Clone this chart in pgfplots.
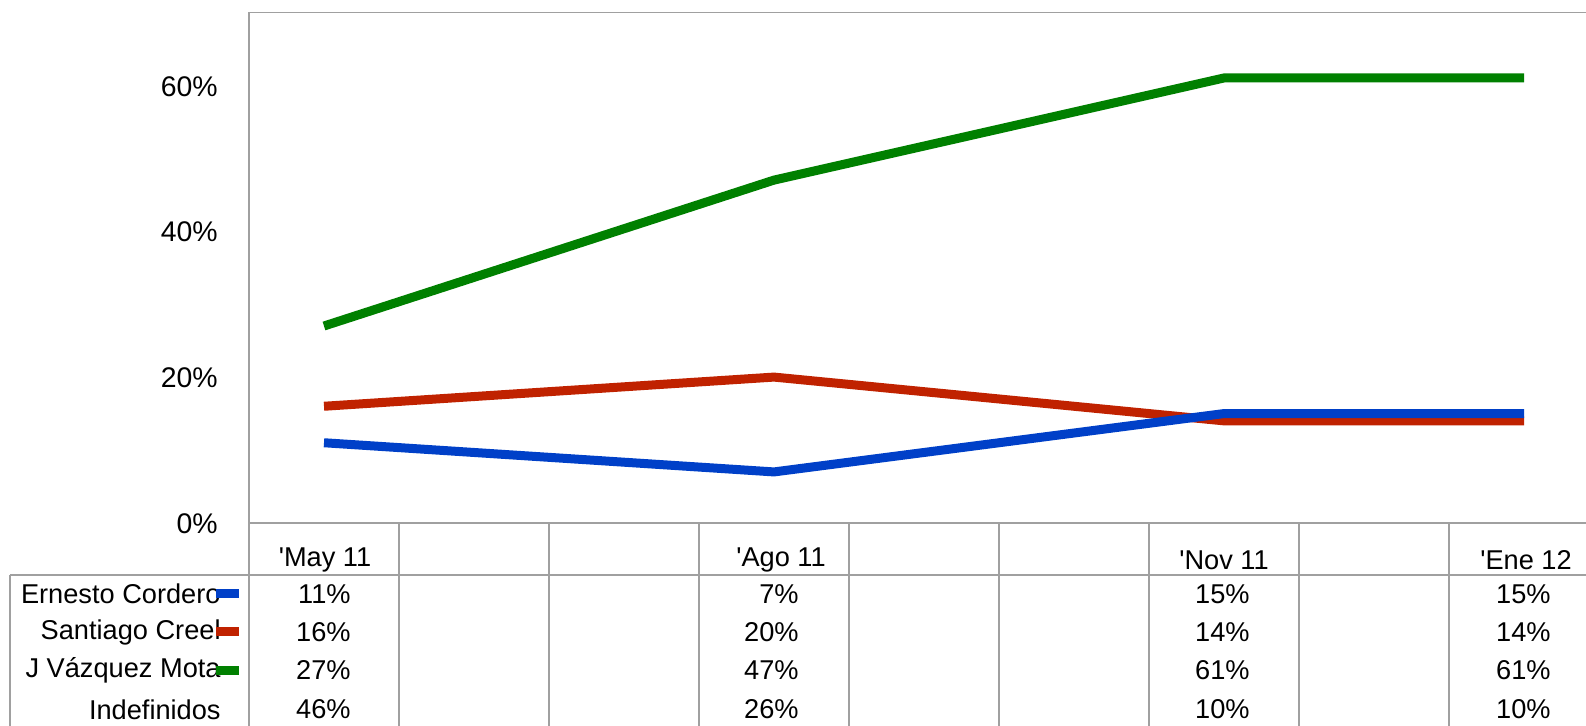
\documentclass[border=0pt]{standalone}
\usepackage{pgfplots}
\pgfplotsset{compat=1.18}
\usepackage{fontspec}
\setmainfont{Liberation Sans}
\definecolor{cblue}{RGB}{0,64,200}
\definecolor{cred}{RGB}{192,34,0}
\definecolor{cgreen}{RGB}{0,128,0}
\definecolor{cgrid}{RGB}{160,160,160}
\begin{document}
\begin{tikzpicture}[font=\fontsize{13.6}{16}\selectfont]
\path[use as bounding box] (0,0) rectangle (793pt,-363pt);
\begin{axis}[
  at={(124.5pt,-261.5pt)}, anchor=south west,
  scale only axis, width=668.5pt, height=255.35pt,
  xmin=-0.5, xmax=8.4133, ymin=0, ymax=70,
  axis x line*=bottom, axis y line*=left,
  xtick=\empty,
  ytick={0,20,40,60}, yticklabels={0\%,20\%,40\%,60\%},
  major tick length=0pt,
  yticklabel style={anchor=east, inner sep=0pt, xshift=-15.5pt, yshift=-0.5pt, font=\fontsize{14.2}{17}\selectfont},
  axis line style={draw=cgrid, line width=0.6pt, -},
  clip=false,
  every axis plot/.append style={line width=4.5pt, line cap=butt, line join=miter},
]
\draw[cgrid, line width=0.6pt] (rel axis cs:0,1) -- (rel axis cs:1,1);
\addplot[cred] coordinates {(0,16) (3,20) (6,14) (8,14)};
\addplot[cgreen] coordinates {(0,27) (3,47) (6,61) (8,61)};
\addplot[cblue] coordinates {(0,11) (3,7) (6,15) (8,15)};
\end{axis}
\begin{scope}[x=0.5pt, y=-0.5pt]
  % table grid
  \draw[cgrid, line width=0.6pt] (10,575) -- (1586,575);
  \draw[cgrid, line width=0.6pt] (10,575) -- (10,726);
  \foreach \k in {0,...,8} {
    \draw[cgrid, line width=0.6pt] ({249+150*\k},523) -- ({249+150*\k},726);
  }
  % column labels
  \node[inner sep=0pt] at (325,560) {\textquotesingle May 11};
  \node[inner sep=0pt] at (781,560) {\textquotesingle Ago 11};
  \node[inner sep=0pt] at (1224,560) {\textquotesingle Nov 11};
  \node[inner sep=0pt] at (1526,560) {\textquotesingle Ene 12};
  % row labels
  \node[inner sep=0pt, anchor=east] at (221,594) {Ernesto Cordero};
  \node[inner sep=0pt, anchor=east] at (221,632) {Santiago Creel};
  \node[inner sep=0pt, anchor=east] at (221,670.5) {J Vázquez Mota};
  \node[inner sep=0pt, anchor=east] at (221,709.5) {Indefinidos};
  \fill[cblue] (216,589) rectangle (239,598);
  \fill[cred] (216,627.5) rectangle (239,636.5);
  \fill[cgreen] (216,666) rectangle (239,675);
  % values
  \foreach \xx/\a/\b/\c/\d in {351/11/16/27/46, 799/7/20/47/26, 1250/15/14/61/10, 1551/15/14/61/10} {
    \node[inner sep=0pt, anchor=east] at (\xx,594) {\a\%};
    \node[inner sep=0pt, anchor=east] at (\xx,632) {\b\%};
    \node[inner sep=0pt, anchor=east] at (\xx,670.5) {\c\%};
    \node[inner sep=0pt, anchor=east] at (\xx,709.5) {\d\%};
  }
\end{scope}
\end{tikzpicture}
\end{document}
